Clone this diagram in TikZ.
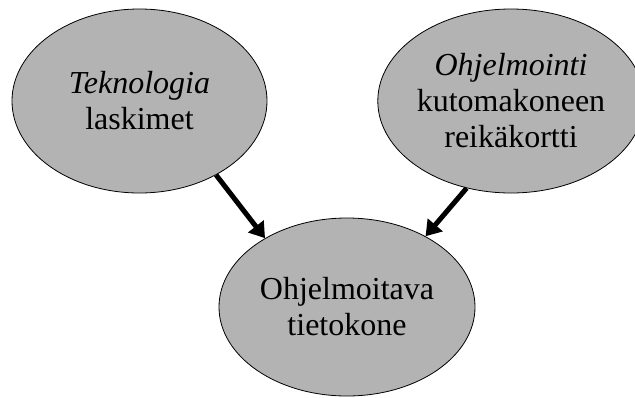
\documentclass[tikz,border=0pt]{standalone}
\usepackage{fontspec}
\setmainfont{Liberation Serif}
\usetikzlibrary{shapes.geometric,arrows.meta}
\definecolor{ovalgray}{RGB}{179,179,179}

\tikzset{oval/.style={draw, ellipse, fill=ovalgray, line width=0.8pt, inner sep=0pt,
    align=center, font=\fontsize{32}{36}\selectfont}}

\begin{document}
\begin{tikzpicture}[x=1pt, y=-1pt, >={Triangle[length=15pt,width=19pt]}]

  \useasboundingbox (0,0) rectangle (635,397);

  \node[oval, minimum width=255pt, minimum height=184pt] (tekn) at (139.5,101) {\textit{Teknologia}\\laskimet};
  \node[oval, minimum width=246pt, minimum height=184pt] (ohjel) at (511,101) {\textit{Ohjelmointi}\\kutomakoneen\\reikäkortti};
  \node[oval, minimum width=256pt, minimum height=178pt] (tieto) at (347,307) {Ohjelmoitava\\tietokone};

  \path[->, line width=5pt] (tekn.-44) edge (tieto.140.7);
  \path[->, line width=5pt] (ohjel.-117) edge (tieto.42.8);

\end{tikzpicture}
\end{document}
